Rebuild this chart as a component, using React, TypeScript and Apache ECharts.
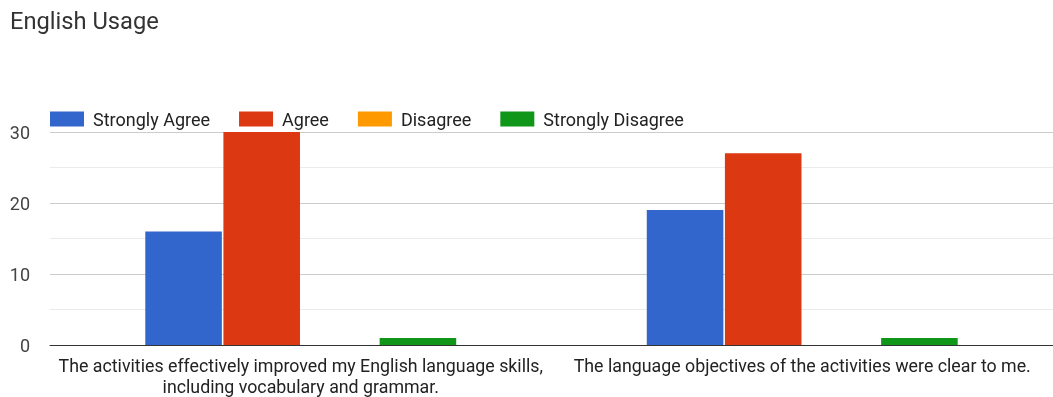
import React, { useEffect, useRef } from "react";
import * as echarts from "echarts";

const categories = [
  "The activities effectively improved my English language skills,\nincluding vocabulary and grammar.",
  "The language objectives of the activities were clear to me.",
];
const seriesNames = ["Strongly Agree", "Agree", "Disagree", "Strongly Disagree"];
const stronglyAgree = [16, 19];
const agree = [30, 27];
const disagree = [0, 0];
const stronglyDisagree = [1, 1];
const colors = ["#3366cc", "#dc3912", "#ff9900", "#109618"];

export default function App() {
  const ref = useRef<HTMLDivElement>(null);
  useEffect(() => {
    const chart = echarts.init(ref.current!, null, { renderer: "svg" });
    const data = [stronglyAgree, agree, disagree, stronglyDisagree];
    chart.setOption({
      animation: false,
      textStyle: { fontFamily: "Roboto, Arial, sans-serif" },
      title: {
        text: "English Usage",
        left: 5,
        top: 4,
        textStyle: { fontSize: 23.7, fontWeight: "normal", color: "#333" },
      },
      legend: {
        left: 50,
        top: 110,
        padding: 0,
        itemWidth: 34,
        itemHeight: 15,
        itemGap: 29,
        icon: "rect",
        textStyle: { fontSize: 18, color: "#222", padding: [0, 0, 0, 4] },
        data: seriesNames,
      },
      grid: { left: 50, width: 1011, top: 132, height: 216, containLabel: false },
      xAxis: {
        type: "category",
        data: categories,
        axisTick: { show: false },
        axisLine: { lineStyle: { color: "#333", width: 1 } },
        axisLabel: { fontSize: 17.8, color: "#222", margin: 10, lineHeight: 21, interval: 0 },
      },
      yAxis: {
        type: "value",
        min: 0,
        max: 30,
        interval: 10,
        axisLabel: { fontSize: 18, color: "#444", margin: 20 },
        splitLine: { lineStyle: { color: "#cccccc" } },
        minorTick: { show: false, splitNumber: 2 },
        minorSplitLine: { show: true, lineStyle: { color: "#ebebeb" } },
      },
      series: seriesNames.map((name, i) => ({
        name,
        type: "bar",
        data: data[i],
        barGap: "2%",
        barCategoryGap: "38%",
        itemStyle: { color: colors[i] },
      })),
    });
    return () => chart.dispose();
  }, []);
  return (
    <div
      style={{ position: "fixed", left: 0, top: 0, width: 1053, height: 397, overflow: "hidden" }}
    >
      <div ref={ref} style={{ width: 1053, height: 397 }} />
    </div>
  );
}
